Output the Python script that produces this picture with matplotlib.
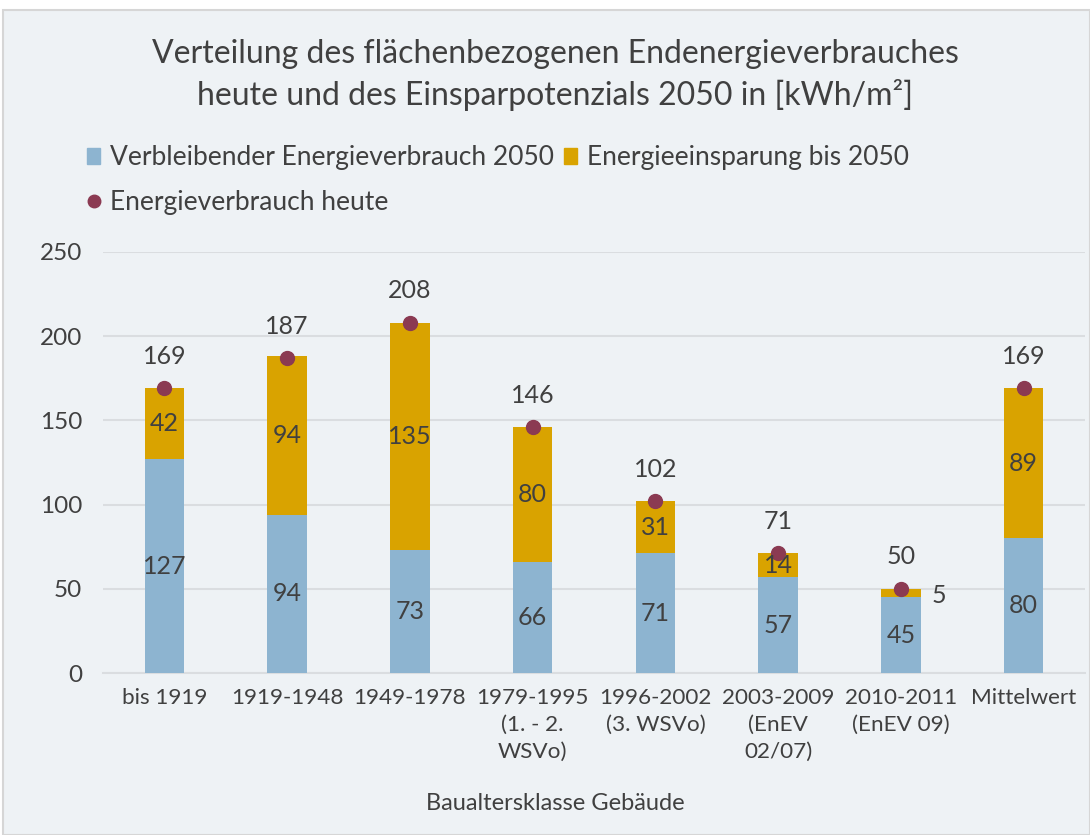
import matplotlib
matplotlib.use("Agg")
import matplotlib.pyplot as plt
from matplotlib.patches import Rectangle
from matplotlib.lines import Line2D
import numpy as np

categories = ["bis 1919", "1919-1948", "1949-1978", "1979-1995\n(1. - 2.\nWSVo)",
              "1996-2002\n(3. WSVo)", "2003-2009\n(EnEV\n02/07)", "2010-2011\n(EnEV 09)", "Mittelwert"]
remaining_2050 = [127, 94, 73, 66, 71, 57, 45, 80]
savings_2050 = [42, 94, 135, 80, 31, 14, 5, 89]
consumption_today = [169, 187, 208, 146, 102, 71, 50, 169]
yticks = [0, 50, 100, 150, 200, 250]

plt.rcParams['font.family'] = ['Lato', 'DejaVu Sans']
TXT = '#404040'
BLUE = '#8db4d0'
GOLD = '#d9a300'
DOT = '#8b3a52'
BG = '#eef2f5'

fig = plt.figure(figsize=(10.9, 8.35), dpi=100, facecolor='white')
fig.patches.append(Rectangle((3/1090, 0), 1 - 3/1090, (835-10)/835, transform=fig.transFigure,
                             facecolor=BG, edgecolor='#d6d6d6', linewidth=1.5, zorder=-10))

ax = fig.add_axes([103/1090, (835-673)/835, (1085-103)/1090, (673-252)/835])
ax.set_facecolor('none')
x = np.arange(len(categories))
w = 0.32
ax.bar(x, remaining_2050, w, color=BLUE, zorder=3)
ax.bar(x, savings_2050, w, bottom=remaining_2050, color=GOLD, zorder=3)
ax.plot(x, consumption_today, 'o', color=DOT, markersize=10, zorder=5)

FS = 18
for i in range(len(x)):
    ax.text(x[i], remaining_2050[i] / 2, str(remaining_2050[i]), ha='center', va='center',
            fontsize=FS, color=TXT, zorder=6)
    if savings_2050[i] >= 10:
        ax.text(x[i], remaining_2050[i] + savings_2050[i] / 2, str(savings_2050[i]), ha='center',
                va='center', fontsize=FS, color=TXT, zorder=6)
    else:
        ax.annotate(str(savings_2050[i]), (x[i] + w / 2, remaining_2050[i] + savings_2050[i] / 2),
                    xytext=(13, -1.5), textcoords='offset points', ha='center', va='center',
                    fontsize=FS, color=TXT)
    ax.annotate(str(consumption_today[i]), (x[i], consumption_today[i]), xytext=(0, 23),
                textcoords='offset points', ha='center', va='center', fontsize=FS, color=TXT)

ax.set_xlim(-0.5, len(categories) - 0.5)
ax.set_ylim(0, 250)
ax.set_yticks(yticks)
ax.set_xticks(x)
ax.set_xticklabels(categories, fontsize=16.2, color=TXT, linespacing=1.42, va='top')
ax.tick_params(axis='y', labelsize=17.5, labelcolor=TXT, length=0, pad=15)
ax.tick_params(axis='x', length=0, pad=11)
ax.grid(axis='y', color='#dadde0', linewidth=1.5, zorder=0)
for s in ['top', 'right', 'left']:
    ax.spines[s].set_visible(False)
ax.spines['bottom'].set_color('#dadde0')
ax.spines['bottom'].set_linewidth(1.5)

fig.text(555/1090, 1 - 803/835, 'Baualtersklasse Gebäude', ha='center', va='center', fontsize=17, color=TXT)
fig.text(555/1090, 1 - 75/835,
         'Verteilung des flächenbezogenen Endenergieverbrauches\nheute und des Einsparpotenzials 2050 in [kWh/m²]',
         ha='center', va='center', fontsize=23, color=TXT, linespacing=1.35)

handles = [Rectangle((0, 0), 1, 1, color=BLUE),
           Line2D([], [], marker='o', linestyle='none', color=DOT, markersize=9),
           Rectangle((0, 0), 1, 1, color=GOLD)]
labels = ['Verbleibender Energieverbrauch 2050', 'Energieverbrauch heute', 'Energieeinsparung bis 2050']
leg = fig.legend(handles, labels, ncol=2, loc='upper left', bbox_to_anchor=(74/1090, 1 - 132/835),
                 frameon=False, fontsize=19, handlelength=0.5, handleheight=0.6, handletextpad=0.35,
                 columnspacing=0.4, labelspacing=0.75, borderpad=0)
for t in leg.get_texts():
    t.set_color(TXT)

fig.savefig('out.png', dpi=100, facecolor='white')
